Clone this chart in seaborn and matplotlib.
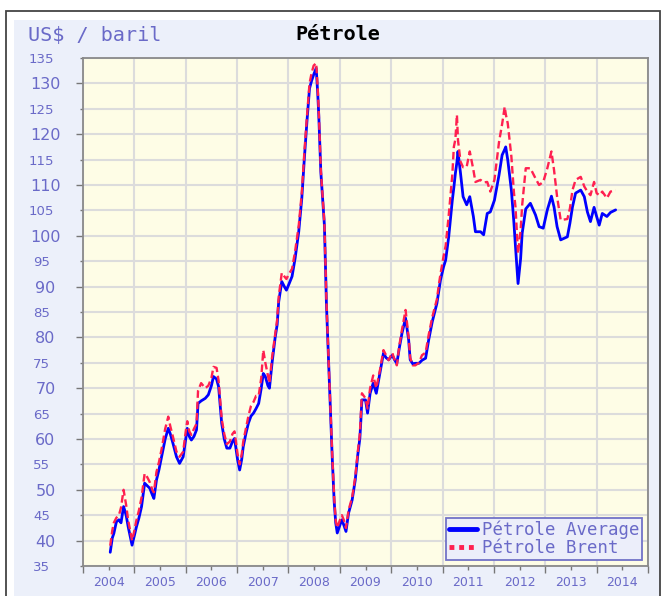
import matplotlib
matplotlib.use("Agg")
import matplotlib.pyplot as plt
from matplotlib.lines import Line2D
from matplotlib.patches import Rectangle
from matplotlib.ticker import MultipleLocator, FormatStrFormatter
import pandas as pd
import seaborn as sns

# semaines (annee decimale)
annees = [
    2004.53, 2004.57, 2004.60, 2004.65, 2004.70, 2004.74, 2004.79, 2004.84, 2004.88, 2004.955,
    2005.00, 2005.04, 2005.09, 2005.14, 2005.20, 2005.25, 2005.30, 2005.35, 2005.38, 2005.43,
    2005.48, 2005.53, 2005.60, 2005.66, 2005.70, 2005.75, 2005.82, 2005.88, 2005.95, 2006.00,
    2006.03, 2006.07, 2006.11, 2006.16, 2006.21, 2006.24, 2006.30, 2006.38, 2006.44, 2006.50,
    2006.54, 2006.60, 2006.64, 2006.70, 2006.75, 2006.80, 2006.86, 2006.91, 2006.95, 2007.01,
    2007.05, 2007.09, 2007.12, 2007.17, 2007.22, 2007.27, 2007.32, 2007.37, 2007.42, 2007.47,
    2007.51, 2007.55, 2007.60, 2007.63, 2007.68, 2007.74, 2007.78, 2007.81, 2007.87, 2007.92,
    2007.96, 2008.01, 2008.07, 2008.13, 2008.20, 2008.26, 2008.31, 2008.36, 2008.41, 2008.45,
    2008.49, 2008.54, 2008.57, 2008.59, 2008.63, 2008.70, 2008.74, 2008.80, 2008.85, 2008.89,
    2008.92, 2008.95, 2009.00, 2009.04, 2009.08, 2009.12, 2009.17, 2009.24, 2009.30, 2009.35,
    2009.39, 2009.41, 2009.43, 2009.50, 2009.54, 2009.59, 2009.65, 2009.71, 2009.78, 2009.85,
    2009.90, 2009.95, 2010.02, 2010.07, 2010.11, 2010.16, 2010.21, 2010.28, 2010.34, 2010.37,
    2010.42, 2010.47, 2010.54, 2010.60, 2010.67, 2010.73, 2010.80, 2010.89, 2010.93, 2010.96,
    2011.02, 2011.06, 2011.12, 2011.19, 2011.22, 2011.25, 2011.28, 2011.30, 2011.35, 2011.40,
    2011.47, 2011.53, 2011.60, 2011.64, 2011.74, 2011.80, 2011.87, 2011.93, 2012.01, 2012.10,
    2012.16, 2012.21, 2012.23, 2012.27, 2012.34, 2012.39, 2012.42, 2012.47, 2012.52, 2012.55,
    2012.62, 2012.71, 2012.81, 2012.88, 2012.96, 2013.04, 2013.12, 2013.17, 2013.23, 2013.30,
    2013.43, 2013.48, 2013.53, 2013.59, 2013.69, 2013.76, 2013.82, 2013.88, 2013.95, 2014.00,
    2014.05, 2014.11, 2014.20, 2014.27, 2014.37,
]

moyenne = [
    37.7, 40.5, 41.4, 43.7, 44.1, 43.5, 46.7, 45.0, 42.7, 39.1,
    41.0, 42.7, 44.5, 46.7, 51.3, 50.8, 50.3, 49.0, 48.3, 51.9,
    54.0, 56.5, 60.0, 62.1, 61.0, 59.2, 56.5, 55.2, 56.5, 60.0,
    62.1, 60.5, 59.8, 60.5, 61.8, 67.0, 67.5, 68.0, 68.7, 70.5,
    72.3, 71.8, 70.3, 63.1, 60.0, 58.2, 58.2, 59.5, 60.1, 55.9,
    53.9, 56.0, 58.5, 61.0, 63.1, 64.5, 65.1, 66.0, 67.0, 70.0,
    72.9, 72.3, 70.5, 70.0, 74.9, 79.9, 82.5, 87.0, 91.0, 90.0,
    89.3, 90.5, 92.0, 95.6, 100.8, 107.4, 115.3, 122.5, 129.0, 130.5,
    131.7, 133.0, 128.0, 123.8, 112.6, 102.1, 86.4, 70.0, 56.9, 47.7,
    43.5, 41.5, 43.0, 44.1, 43.0, 41.8, 45.4, 48.0, 51.9, 56.9,
    60.1, 63.7, 67.7, 67.7, 65.1, 69.0, 71.0, 69.0, 72.9, 76.9,
    76.0, 75.6, 76.5, 75.5, 74.9, 78.0, 80.8, 83.8, 79.5, 75.6,
    74.8, 74.9, 74.9, 75.5, 75.9, 79.5, 83.1, 86.7, 89.3, 91.3,
    93.9, 95.2, 99.8, 107.0, 109.5, 112.3, 114.5, 116.6, 112.3, 107.7,
    106.1, 107.7, 103.8, 100.8, 100.8, 100.2, 104.4, 104.7, 107.0, 112.0,
    115.9, 117.0, 117.5, 114.9, 109.0, 102.5, 97.9, 90.6, 95.5, 100.5,
    105.3, 106.4, 104.1, 101.8, 101.5, 105.1, 107.8, 105.7, 101.8, 99.2,
    99.8, 102.5, 105.7, 108.4, 109.0, 107.7, 104.7, 102.8, 105.6, 103.8,
    102.1, 104.4, 103.8, 104.6, 105.1,
]

brent = [
    39.0, 42.0, 43.5, 44.5, 45.0, 46.5, 50.0, 47.0, 44.0, 40.0,
    42.0, 44.0, 46.0, 48.5, 53.2, 52.5, 51.5, 50.0, 49.5, 53.5,
    55.5, 58.0, 62.0, 64.4, 62.5, 60.5, 57.5, 56.5, 57.5, 61.5,
    63.5, 61.5, 60.8, 62.0, 63.0, 69.5, 71.0, 70.0, 70.5, 72.0,
    74.2, 74.0, 71.5, 64.0, 61.0, 59.0, 59.5, 61.0, 61.5, 57.0,
    55.0, 57.0, 59.5, 62.0, 64.5, 66.5, 67.3, 68.5, 68.5, 72.0,
    77.5, 75.0, 72.5, 71.0, 76.0, 80.5, 83.5, 88.0, 92.7, 92.0,
    91.5, 92.5, 93.5, 97.0, 102.0, 108.5, 116.5, 123.5, 130.0, 132.0,
    133.5, 134.0, 129.0, 124.5, 113.0, 102.5, 87.0, 70.5, 57.5, 48.5,
    44.0, 42.5, 44.0, 45.0, 44.0, 42.5, 46.0, 48.5, 52.5, 57.5,
    61.0, 65.0, 69.0, 68.0, 66.0, 70.0, 72.5, 70.0, 73.5, 77.5,
    76.5, 75.5, 77.0, 75.5, 74.5, 78.5, 81.5, 85.4, 80.0, 76.0,
    74.5, 74.5, 75.0, 76.5, 77.0, 80.5, 84.0, 87.5, 90.5, 92.5,
    96.0, 98.0, 104.0, 112.0, 117.5, 119.0, 123.8, 118.9, 114.6, 113.5,
    113.6, 116.6, 113.0, 110.6, 111.0, 110.5, 110.6, 108.7, 111.0, 118.5,
    122.0, 125.4, 124.0, 122.1, 115.6, 108.5, 105.7, 96.5, 101.1, 106.0,
    113.3, 113.3, 111.3, 110.0, 110.6, 113.3, 116.6, 113.0, 107.7, 103.1,
    103.3, 105.4, 109.0, 111.0, 111.6, 109.7, 108.7, 108.0, 110.6, 108.4,
    108.0, 108.7, 107.4, 108.7, 109.0,
]

etiquettes_annees = [str(a) for a in range(2004, 2015)]

BLEU_TXT = "#6A6AC8"
GRIS_GRILLE = "#DCDCDC"

sns.set_theme(style="white")
plt.rcParams["font.family"] = ["DejaVu Sans"]

df = pd.DataFrame({
    "annee": annees + annees,
    "prix": moyenne + brent,
    "serie": ["Pétrole Average"] * len(annees) + ["Pétrole Brent"] * len(annees),
})

W, H = 663, 596
fig = plt.figure(figsize=(W / 100, H / 100), dpi=100)
fig.patch.set_facecolor("white")
# fond bleu clair + cadre (derriere les axes)
fig.patches.append(Rectangle((14 / W, 0), 646 / W, 1 - 20 / H, transform=fig.transFigure,
                             facecolor="#ECF0FA", edgecolor="none", zorder=-2))
fig.patches.append(Rectangle((6 / W, -0.05), 654 / W, 1.05 - 11 / H, transform=fig.transFigure,
                             fill=False, edgecolor="#444444", lw=1.3, zorder=-1))

ax = fig.add_axes([83 / W, 30 / H, 565 / W, 508 / H])
ax.set_zorder(2)
ax.set_facecolor("#FEFDE6")
ax.set_axisbelow(True)

sns.lineplot(data=df[df.serie == "Pétrole Average"], x="annee", y="prix", color="#0000FF",
             linewidth=2.0, sort=False, ax=ax, legend=False)
sns.lineplot(data=df[df.serie == "Pétrole Brent"], x="annee", y="prix", color="#FF2050",
             linewidth=1.7, sort=False, ax=ax, legend=False)
ax.lines[-1].set_dashes((3.2, 1.6))

ax.set_xlim(2004, 2015)
ax.set_ylim(35, 135)
ax.set_xlabel("")
ax.set_ylabel("")

# axe x : traits aux annees, libelles au milieu
ax.xaxis.set_major_locator(MultipleLocator(1))
ax.set_xticks([a + 0.5 for a in range(2004, 2015)], minor=True)
ax.set_xticklabels(etiquettes_annees, minor=True)
ax.tick_params(axis="x", which="major", length=5, width=1, color="#777777", labelbottom=False, bottom=True)
ax.tick_params(axis="x", which="minor", length=3, width=1, color="#777777", labelsize=9,
               labelcolor=BLEU_TXT, pad=4, bottom=True)

# axe y : 10 en grand, 5 en petit
ax.yaxis.set_major_locator(MultipleLocator(10))
ax.yaxis.set_minor_locator(MultipleLocator(10, offset=5))
ax.yaxis.set_minor_formatter(FormatStrFormatter("%d"))
ax.tick_params(axis="y", which="major", length=5, width=1, color="#777777", labelsize=11.5,
               labelcolor=BLEU_TXT, pad=22, left=True)
ax.tick_params(axis="y", which="minor", length=2, width=1, color="#777777", labelsize=9.5,
               labelcolor=BLEU_TXT, pad=28, left=True)
for t in ax.get_yticklabels(which="both"):
    t.set_horizontalalignment("center")

ax.grid(True, axis="y", which="both", color=GRIS_GRILLE, lw=1.5)
ax.grid(True, axis="x", which="major", color=GRIS_GRILLE, lw=1.5)
for s in ax.spines.values():
    s.set_color("#8A8A8A")
    s.set_linewidth(1.3)
    s.set_visible(True)

fig.text(28 / W, 1 - 35 / H, "US$ / baril", ha="left", va="center", fontsize=14.5,
         family="DejaVu Sans Mono", color=BLEU_TXT)
fig.text(338 / W, 1 - 35 / H, "Pétrole", ha="center", va="center", fontsize=14.5,
         family="DejaVu Sans Mono", fontweight="bold", color="black")

poignees = [
    Line2D([], [], color="#0000FF", lw=3.5),
    Line2D([], [], color="#FF2050", lw=3.5, dashes=(1, 1)),
]
leg = ax.legend(poignees, ["Pétrole Average", "Pétrole Brent"], loc="lower right",
                prop={"family": "DejaVu Sans Mono", "size": 12.5}, labelcolor=BLEU_TXT,
                frameon=True, fancybox=False, facecolor="#ECEEFA", edgecolor="#7272C8",
                framealpha=1, borderpad=0.15, labelspacing=0.0, handlelength=1.6,
                handletextpad=0.3, borderaxespad=0.35)
leg.get_frame().set_linewidth(1.3)

fig.savefig("out.png", dpi=100)
